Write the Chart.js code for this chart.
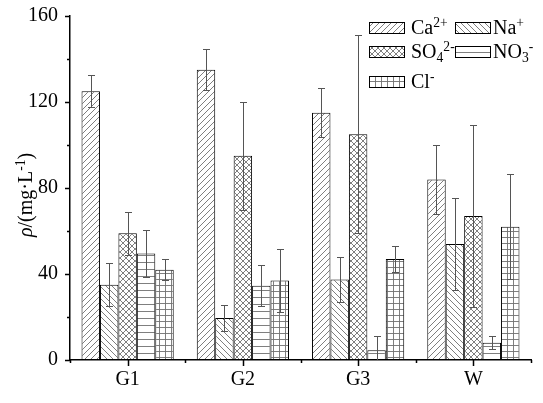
<!DOCTYPE html>
<html>
<head>
<meta charset="utf-8">
<script src="https://cdn.jsdelivr.net/npm/chart.js@4"></script>
<style>
  html, body { margin: 0; padding: 0; background: #fff; }
</style>
</head>
<body>
<canvas id="chart" width="543" height="403"></canvas>
<script>
// data (mean and +/- error)
const sites = ['G1', 'G2', 'G3', 'W'];
const ca = [125, 135, 115, 84];
const caErr = [7.5, 9.5, 11.5, 16];
const na = [35, 19.5, 37.5, 54];
const naErr = [10, 6, 10.5, 21.5];
const so4 = [59, 95, 105, 67];
const so4Err = [10, 25, 46, 42.5];
const no3 = [49.5, 34.5, 4.5, 8];
const no3Err = [11, 9.5, 6.5, 3];
const cl = [42, 37, 47, 62];
const clErr = [5, 14.5, 6, 24.5];
const yTicks = [0, 40, 80, 120, 160];

const FONT = "'Liberation Serif', 'Times New Roman', serif";

function hatch(kind) {
    const s = kind === 'horiz' ? 7 : 6;
    const c = document.createElement('canvas');
    c.width = s; c.height = s;
    const g = c.getContext('2d');
    g.fillStyle = '#fff';
    g.fillRect(0, 0, s, s);
    g.strokeStyle = '#707070';
    g.lineWidth = 0.9;
    g.beginPath();
    if (kind === 'fwd' || kind === 'cross') {
        g.moveTo(-1, s + 1); g.lineTo(s + 1, -1);
        g.moveTo(-1, 1); g.lineTo(1, -1);
        g.moveTo(s - 1, s + 1); g.lineTo(s + 1, s - 1);
    }
    if (kind === 'back' || kind === 'cross') {
        g.moveTo(-1, -1); g.lineTo(s + 1, s + 1);
        g.moveTo(s - 1, -1); g.lineTo(s + 1, 1);
        g.moveTo(-1, s - 1); g.lineTo(1, s + 1);
    }
    if (kind === 'horiz' || kind === 'grid') {
        g.moveTo(0, 3.5); g.lineTo(s, 3.5);
    }
    if (kind === 'grid') {
        g.moveTo(3.5, 0); g.lineTo(3.5, s);
    }
    g.stroke();
    return g.createPattern(c, 'repeat');
}

const series = [
    { label: 'Ca^{2+}', data: ca, err: caErr, kind: 'fwd' },
    { label: 'Na^{+}', data: na, err: naErr, kind: 'back' },
    { label: 'SO_{4}^{2-}', data: so4, err: so4Err, kind: 'cross' },
    { label: 'NO_{3}^{-}', data: no3, err: no3Err, kind: 'horiz' },
    { label: 'Cl^{-}', data: cl, err: clErr, kind: 'grid' },
];

// split "SO_{4}^{2-}" into normal / sub / sup pieces
function parts(str) {
    const out = [];
    const re = /([_^])\{([^}]*)\}|([^_^]+)/g;
    let m;
    while ((m = re.exec(str)) !== null) {
        if (m[3]) out.push({ t: m[3], k: 'n' });
        else out.push({ t: m[2], k: m[1] === '^' ? 'sup' : 'sub' });
    }
    return out;
}

const SMALL = 0.68;

function drawRich(ctx, pieces, x, y, size) {
    ctx.textBaseline = 'alphabetic';
    ctx.textAlign = 'left';
    pieces.forEach(p => {
        let fs = size, dy = 0;
        if (p.k === 'sup') { fs = size * SMALL; dy = -size * 0.36; }
        if (p.k === 'sub') { fs = size * SMALL; dy = size * 0.2; }
        ctx.font = (p.it ? 'italic ' : '') + fs + 'px ' + FONT;
        ctx.fillText(p.t, x, y + dy);
        x += ctx.measureText(p.t).width;
    });
    return x;
}

function richWidth(ctx, pieces, size) {
    let w = 0;
    pieces.forEach(p => {
        const fs = p.k === 'n' ? size : size * SMALL;
        ctx.font = (p.it ? 'italic ' : '') + fs + 'px ' + FONT;
        w += ctx.measureText(p.t).width;
    });
    return w;
}

const errorBars = {
    id: 'errorBars',
    afterDatasetsDraw(chart) {
        const ctx = chart.ctx;
        const y = chart.scales.y;
        const a = chart.chartArea;
        ctx.save();
        ctx.beginPath();
        ctx.rect(a.left, a.top - 10, a.right - a.left, a.bottom - a.top + 10);
        ctx.clip();
        ctx.strokeStyle = '#555';
        ctx.lineWidth = 1;
        chart.data.datasets.forEach((ds, i) => {
            chart.getDatasetMeta(i).data.forEach((bar, j) => {
                const x = Math.round(bar.x) + 0.5;
                const hi = Math.round(y.getPixelForValue(ds.data[j] + ds.err[j])) + 0.5;
                const lo = Math.round(y.getPixelForValue(ds.data[j] - ds.err[j])) + 0.5;
                ctx.beginPath();
                ctx.moveTo(x, hi); ctx.lineTo(x, lo);
                ctx.moveTo(x - 3.5, hi); ctx.lineTo(x + 3.5, hi);
                ctx.moveTo(x - 3.5, lo); ctx.lineTo(x + 3.5, lo);
                ctx.stroke();
            });
        });
        ctx.restore();
    }
};

const decor = {
    id: 'decor',
    afterDraw(chart) {
        const ctx = chart.ctx;
        const a = chart.chartArea;
        const xs = chart.scales.x, ys = chart.scales.y;
        ctx.save();
        ctx.strokeStyle = '#000';
        ctx.lineWidth = 1.5;
        ctx.beginPath();
        // y ticks, outward
        for (let v = 0; v <= 160; v += 20) {
            const py = Math.round(ys.getPixelForValue(v)) + 0.5;
            const len = yTicks.includes(v) ? 5 : 3;
            ctx.moveTo(a.left, py); ctx.lineTo(a.left - len, py);
        }
        // x ticks: centers and boundaries
        const centers = sites.map((s, i) => xs.getPixelForValue(i));
        centers.forEach(cx => {
            ctx.moveTo(Math.round(cx) + 0.5, a.bottom); ctx.lineTo(Math.round(cx) + 0.5, a.bottom + 6);
        });
        const bounds = [a.left];
        for (let i = 0; i < centers.length - 1; i++) bounds.push((centers[i] + centers[i + 1]) / 2);
        bounds.push(a.right);
        bounds.forEach(bx => {
            ctx.moveTo(Math.round(bx) + 0.5, a.bottom); ctx.lineTo(Math.round(bx) + 0.5, a.bottom + 3);
        });
        ctx.stroke();

        // legend
        const cols = [369, 455];
        const textGap = [42, 38];
        const rows = [28, 52, 82];
        chart.data.datasets.forEach((ds, i) => {
            const c = i % 2;
            const px = cols[c], py = rows[Math.floor(i / 2)];
            ctx.fillStyle = ds.backgroundColor;
            ctx.fillRect(px, py - 6, 36, 12);
            ctx.lineWidth = 1;
            ctx.strokeStyle = '#000';
            ctx.strokeRect(px + 0.5, py - 5.5, 35, 11);
            ctx.fillStyle = '#000';
            drawRich(ctx, parts(ds.label), px + textGap[c], py + 6, 20);
        });

        // y title with italic rho
        const title = [
            { t: 'ρ', k: 'n', it: true },
            { t: '/(mg·L', k: 'n' },
            { t: '-1', k: 'sup' },
            { t: ')', k: 'n' },
        ];
        const w = richWidth(ctx, title, 20);
        ctx.translate(32, 195);
        ctx.rotate(-Math.PI / 2);
        ctx.fillStyle = '#000';
        drawRich(ctx, title, -w / 2, 0, 20);
        ctx.restore();
    }
};

const datasets = series.map(s => ({
    label: s.label,
    data: s.data,
    err: s.err,
    backgroundColor: hatch(s.kind),
    borderColor: '#000',
    borderWidth: 1,
    borderSkipped: false,
}));

new Chart(document.getElementById('chart'), {
    type: 'bar',
    data: { labels: sites, datasets: datasets },
    options: {
        responsive: false,
        animation: false,
        datasets: { bar: { categoryPercentage: 0.8, barPercentage: 1 } },
        layout: { padding: { top: 16, right: 12, left: 0, bottom: 0 } },
        plugins: {
            legend: { display: false },
            tooltip: { enabled: false },
        },
        scales: {
            x: {
                grid: { display: false, drawTicks: false },
                border: { color: '#000', width: 1.5 },
                ticks: { color: '#000', padding: 8, font: { family: FONT, size: 20 } },
                afterFit: s => {
                    s.height = 43;
                    s.paddingLeft = 0;
                    s.paddingRight = 0;
                },
            },
            y: {
                min: 0,
                max: 160,
                grid: { display: false, drawTicks: false },
                border: { color: '#000', width: 1.5 },
                ticks: {
                    stepSize: 20,
                    color: '#000',
                    padding: 12,
                    font: { family: FONT, size: 20 },
                    callback: v => (yTicks.includes(v) ? v : ''),
                },
                afterFit: s => {
                    s.width = 70;
                    s.paddingTop = 0;
                    s.paddingBottom = 0;
                },
            },
        },
    },
    plugins: [errorBars, decor],
});
</script>
</body>
</html>
